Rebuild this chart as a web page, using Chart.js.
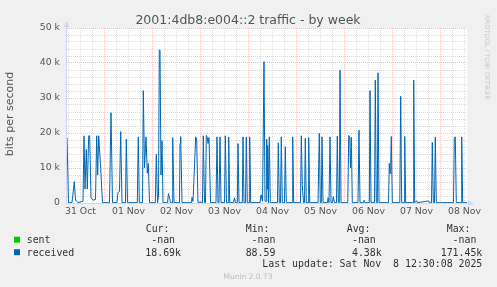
<!DOCTYPE html>
<html>
<head>
<meta charset="utf-8">
<script src="https://cdn.jsdelivr.net/npm/chart.js@4.4.0/dist/chart.umd.min.js"></script>
<style>
  html, body { margin: 0; padding: 0; background: #f0f0f0; }
  #wrap { width: 497px; height: 287px; }
</style>
</head>
<body>
<div id="wrap"><canvas id="chart" width="497" height="287"></canvas></div>
<script>
// time axis in hours since 31 Oct 00:00, values in kbit/s
const hours = [
  5.25, 6.0, 7.75, 8.9, 9.5, 10.25, 10.75, 13.25, 13.75, 14.25, 14.9, 15.4, 16.1, 16.6, 17.25, 18.25, 19.5,
  20.1, 20.6, 21.1, 22.1, 23.0, 26.5, 27.25, 28.0, 30.25, 30.75, 31.5, 32.1, 32.75, 34.5, 34.9, 35.5,
  40.4, 40.9, 41.4, 43.0, 43.4, 44.0, 44.75, 45.4, 45.9, 46.5, 49.4, 49.9, 50.5, 51.0, 51.4, 51.75,
  52.25, 52.75, 53.25, 55.5, 56.0, 56.5, 57.0, 57.75, 58.1, 58.75, 61.5, 61.75, 62.1, 62.75,
  67.5, 67.75, 68.25, 69.6, 70.1, 70.75, 71.75, 73.0, 73.4, 74.0, 74.5, 74.9, 75.4, 75.75, 76.25, 77.0,
  79.75, 80.25, 80.75, 81.25, 81.75, 82.25, 84.0, 84.4, 85.0, 85.75, 86.1, 86.6, 88.5, 89.0, 89.5,
  90.4, 90.75, 91.25, 92.9, 93.25, 93.75, 94.5, 94.9, 95.4, 96.25, 96.6, 97.1,
  101.75, 102.25, 103.0, 103.75, 104.25, 104.75, 105.1, 105.35, 105.6, 106.0, 106.4, 106.9,
  110.5, 110.9, 111.4, 112.0, 112.4, 112.9, 114.0, 114.4, 114.9, 117.75, 118.1, 118.6,
  122.0, 122.4, 122.9, 123.5, 124.0, 124.4, 124.9, 125.75, 126.1, 126.6,
  130.75, 131.4, 131.9, 132.4, 132.75, 133.25, 135.5, 135.75, 136.25, 136.75, 137.25,
  138.0, 138.4, 139.0, 140.0, 140.4, 140.9, 141.4, 141.75, 142.25,
  145.65, 146.1, 146.6, 147.0, 147.4, 147.9, 150.75, 151.25, 151.75, 153.5, 153.75, 154.25,
  156.4, 156.75, 157.25, 159.0, 159.4, 159.9, 160.4, 160.75, 161.25,
  166.0, 166.4, 166.75, 167.1, 167.4, 167.9, 171.65, 172.1, 172.6, 173.75, 174.1, 174.6,
  178.25, 178.6, 179.1, 180.1, 180.5, 186.1, 186.5, 187.5, 187.9, 188.4, 189.0, 189.4, 189.9,
  198.5, 198.9, 199.4, 199.9, 202.25, 202.6, 203.1, 205.25
];
const receivedK = [
  18.7, 0.1, 0.1, 6.1, 0.8, 0.5, 0.1, 0.5, 19.2, 4.0, 15.3, 4.0, 19.2, 19.2, 1.5, 0.8, 1.0,
  19.2, 8.0, 19.2, 9.9, 0.1, 0.1, 25.8, 0.1, 0.1, 3.0, 3.3, 20.4, 0.1, 0.1, 18.2, 0.1,
  0.1, 18.9, 0.1, 0.1, 32.1, 10.0, 18.9, 8.5, 11.3, 0.1, 0.1, 13.9, 0.1, 2.0, 43.7, 43.7,
  8.0, 17.8, 0.1, 0.1, 2.7, 1.5, 0.1, 0.1, 18.7, 0.1, 0.1, 17.0, 19.0, 0.1,
  0.1, 1.6, 0.5, 18.9, 18.0, 0.1, 0.3, 0.1, 19.2, 0.1, 0.1, 19.3, 18.7, 17.0, 18.7, 0.1,
  0.1, 18.9, 0.1, 0.1, 18.9, 0.1, 0.1, 19.2, 0.1, 0.1, 18.9, 0.1, 0.1, 1.5, 0.1,
  0.1, 17.0, 0.1, 0.1, 18.9, 0.1, 0.1, 18.9, 0.1, 0.1, 18.9, 0.1,
  0.1, 2.3, 0.5, 40.4, 0.5, 0.5, 18.2, 4.0, 16.4, 0.1, 18.9, 0.1,
  0.1, 17.2, 0.1, 0.1, 18.9, 0.1, 0.1, 16.1, 0.1, 0.1, 18.9, 0.1,
  0.1, 19.2, 5.0, 0.1, 0.1, 18.5, 0.1, 0.1, 18.7, 0.1,
  0.1, 19.9, 0.1, 0.1, 18.9, 0.1, 0.1, 1.5, 0.1, 18.9, 0.1,
  0.1, 1.8, 0.1, 0.1, 19.1, 0.1, 0.1, 38.0, 0.1,
  0.1, 19.3, 18.9, 10.0, 18.8, 0.1, 0.1, 20.8, 0.1, 0.1, 0.8, 0.1,
  0.1, 32.1, 0.1, 0.1, 35.1, 0.1, 0.1, 37.2, 0.1,
  0.1, 11.3, 8.4, 11.0, 19.0, 0.1, 0.1, 30.5, 0.1, 0.1, 19.0, 0.1,
  0.1, 35.1, 0.1, 0.6, 0.1, 0.6, 0.1, 0.1, 17.3, 0.1, 0.1, 18.8, 0.1,
  0.1, 18.6, 18.9, 0.1, 0.1, 18.9, 0.1, 0.1
];
const dayLabels = ['31 Oct', '01 Nov', '02 Nov', '03 Nov', '04 Nov', '05 Nov', '06 Nov', '07 Nov', '08 Nov'];
const seriesNames = ['sent', 'received'];
const seriesColors = ['#00cc00', '#0066b3'];
const statHeads = ['Cur:', 'Min:', 'Avg:', 'Max:'];
const sentStats = ['-nan ', '-nan ', '-nan ', '-nan '];
const receivedStats = ['18.69k', '88.59 ', '4.38k', '171.45k'];
const lastUpdate = 'Last update: Sat Nov  8 12:30:08 2025';

const AXIS = '#cfd6f8';
const MGRID = 'rgba(230, 120, 120, 0.45)';
const GRID = 'rgba(185, 185, 185, 0.5)';

const munin = {
  id: 'munin',
  beforeDraw(chart) {
    const { ctx, chartArea: a } = chart;
    ctx.save();
    ctx.fillStyle = '#f0f0f0';
    ctx.fillRect(0, 0, chart.width, chart.height);
    ctx.fillStyle = '#ffffff';
    ctx.fillRect(a.left, a.top, a.right - a.left, a.bottom - a.top);
    ctx.restore();
  },
  beforeDatasetsDraw(chart) {
    const { ctx, chartArea: a } = chart;
    ctx.save();
    ctx.strokeStyle = AXIS;
    ctx.fillStyle = AXIS;
    ctx.lineWidth = 1;
    ctx.beginPath();
    ctx.moveTo(a.left - 0.5, a.bottom + 0.5);
    ctx.lineTo(a.right + 2, a.bottom + 0.5);
    ctx.moveTo(a.left - 0.5, a.bottom + 0.5);
    ctx.lineTo(a.left - 0.5, a.top - 3);
    ctx.stroke();
    ctx.beginPath();
    ctx.moveTo(a.right + 1, a.bottom - 2.5);
    ctx.lineTo(a.right + 7, a.bottom + 0.5);
    ctx.lineTo(a.right + 1, a.bottom + 3.5);
    ctx.fill();
    ctx.beginPath();
    ctx.moveTo(a.left - 3.5, a.top - 1);
    ctx.lineTo(a.left - 0.5, a.top - 7);
    ctx.lineTo(a.left + 2.5, a.top - 1);
    ctx.fill();
    ctx.restore();
  },
  afterDraw(chart) {
    const ctx = chart.ctx;
    ctx.save();
    ctx.fillStyle = '#555';
    ctx.font = '12.5px "DejaVu Sans"';
    ctx.textAlign = 'center';
    ctx.textBaseline = 'alphabetic';
    ctx.fillText('2001:4db8:e004::2 traffic - by week', 248, 23.5);

    ctx.save();
    ctx.translate(10.5, 114);
    ctx.rotate(-Math.PI / 2);
    ctx.font = '11px "DejaVu Sans"';
    ctx.textBaseline = 'middle';
    ctx.fillText('bits per second', 0, 0);
    ctx.restore();

    ctx.save();
    ctx.translate(487, 15);
    ctx.rotate(Math.PI / 2);
    ctx.font = '6.6px "DejaVu Sans"';
    ctx.fillStyle = '#c8c8c8';
    ctx.textAlign = 'left';
    ctx.textBaseline = 'middle';
    ctx.fillText('RRDTOOL / TOBI OETIKER', 0, 0);
    ctx.restore();

    // legend
    ctx.font = '9.9px "DejaVu Sans Mono"';
    ctx.fillStyle = '#333';
    ctx.textAlign = 'left';
    const headX = [145.7, 245.7, 346.7, 446.7];
    const colRight = [181, 281.3, 381.7, 482.3];
    statHeads.forEach((h, i) => ctx.fillText(h, headX[i], 231.5));
    const rows = [sentStats, receivedStats];
    const rowY = [243, 255.5];
    rows.forEach((vals, r) => {
      ctx.fillStyle = seriesColors[r];
      ctx.fillRect(14, rowY[r] - 6.3, 6, 6);
      ctx.fillStyle = '#333';
      ctx.textAlign = 'left';
      ctx.fillText(seriesNames[r], 26.7, rowY[r]);
      ctx.textAlign = 'right';
      vals.forEach((v, i) => ctx.fillText(v, colRight[i], rowY[r]));
    });
    ctx.textAlign = 'right';
    ctx.fillText(lastUpdate, 482.3, 266.5);

    ctx.textAlign = 'center';
    ctx.fillStyle = '#bdbdbd';
    ctx.font = '7.5px "DejaVu Sans"';
    ctx.fillText('Munin 2.0.73', 248, 279);
    ctx.restore();
  }
};

const received = hours.map((h, i) => ({ x: h, y: receivedK[i] * 1000 }));

new Chart(document.getElementById('chart'), {
  type: 'line',
  data: {
    datasets: [
      { label: seriesNames[0], data: [], borderColor: seriesColors[0], borderWidth: 1, pointRadius: 0 },
      { label: seriesNames[1], data: received, borderColor: seriesColors[1], borderWidth: 1,
        pointRadius: 0, tension: 0, fill: false }
    ]
  },
  options: {
    responsive: false,
    animation: false,
    devicePixelRatio: 1,
    layout: { padding: { top: 28, right: 30, left: 0, bottom: 0 } },
    plugins: { legend: { display: false }, tooltip: { enabled: false } },
    scales: {
      x: {
        type: 'linear',
        min: 5.25,
        max: 205.25,
        afterFit(scale) { scale.height = 84; },
        afterBuildTicks(scale) {
          const t = [];
          for (let h = 6; h <= 204; h += 6) t.push({ value: h });
          scale.ticks = t;
        },
        grid: {
          drawTicks: false,
          color: (c) => (c.tick && c.tick.value % 24 === 0 ? MGRID : GRID),
          lineWidth: 1
        },
        border: { display: false, dash: [1, 1] },
        ticks: {
          autoSkip: false,
          maxRotation: 0,
          minRotation: 0,
          padding: 3,
          color: '#555',
          font: { family: 'DejaVu Sans', size: 9.3 },
          callback: (v) => (v % 24 === 12 ? dayLabels[(v - 12) / 24] : '')
        }
      },
      y: {
        min: 0,
        max: 50000,
        afterFit(scale) { scale.width = 67; },
        afterBuildTicks(scale) {
          const t = [];
          for (let v = 0; v <= 50000; v += 2000) t.push({ value: v });
          scale.ticks = t;
        },
        grid: {
          drawTicks: false,
          color: (c) => (c.tick && c.tick.value % 10000 === 0 ? MGRID : GRID),
          lineWidth: 1
        },
        border: { display: false, dash: [1, 1] },
        ticks: {
          autoSkip: false,
          padding: 7,
          color: '#555',
          font: { family: 'DejaVu Sans', size: 9.3 },
          callback: (v) => (v % 10000 === 0 ? (v === 0 ? '0' : v / 1000 + ' k') : '')
        }
      }
    }
  },
  plugins: [munin]
});
</script>
</body>
</html>
